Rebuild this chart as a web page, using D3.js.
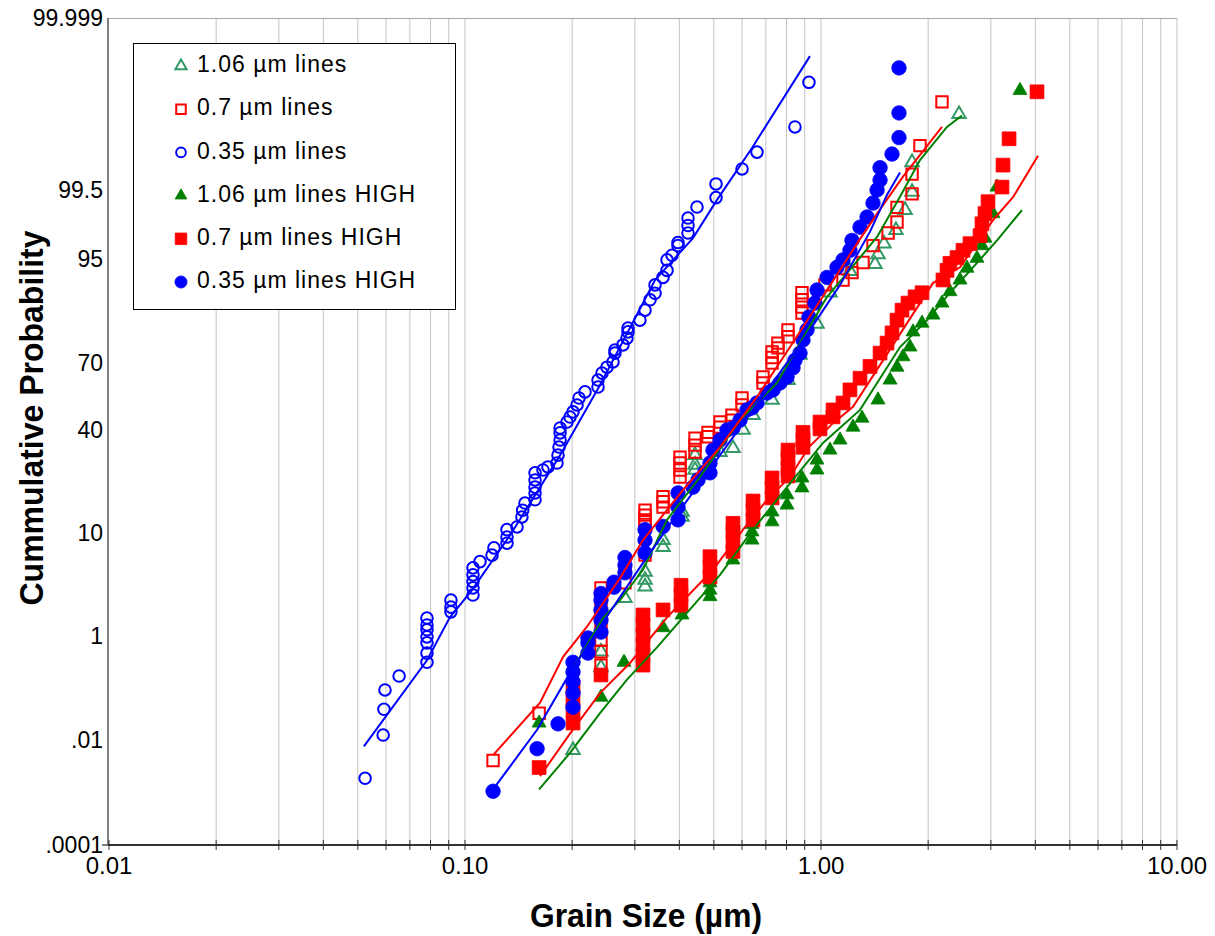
<!DOCTYPE html>
<html><head><meta charset="utf-8">
<script src="https://cdn.jsdelivr.net/npm/d3@7"></script>
<style>
body{margin:0;background:#fff}
svg{display:block}
text{font-family:"Liberation Sans",Arial,sans-serif;fill:#000}
</style></head>
<body><svg id="chart" width="1215" height="936"></svg>
<script>
// ---------------- data ----------------
const seriesNames = ["1.06 µm lines","0.7 µm lines","0.35 µm lines","1.06 µm lines HIGH","0.7 µm lines HIGH","0.35 µm lines HIGH"];
const xTickValues = [0.01,0.1,1,10];
const xTickLabels = ["0.01","0.10","1.00","10.00"];
const yTickValues = [0.0001,0.01,1,10,40,70,95,99.5,99.999];
const yTickLabels = [".0001",".01","1","10","40","70","95","99.5","99.999"];

// 1.06 µm lines (open triangles)
const size106 = [0.2011,0.241,0.241,0.2814,0.3204,0.3204,0.3204,0.360,0.360,0.4071,0.4071,0.4427,0.4427,0.4427,0.5204,0.5659,0.6039,0.6442,0.7286,0.8078,0.873,0.9745,1.060,1.206,1.418,1.446,1.503,1.624,1.722,1.802,1.802,2.442];
const prob106 = [0.0067,0.30,0.56,2.6,3.4,3.94,4.7,7.7,8.8,13.1,14.2,25.7,27.4,30.7,31.8,33.2,40,46.8,53.8,62.8,73.0,82.8,90.0,93.5,94.4,95.6,96.8,97.9,98.94,99.46,99.78,99.955];
// 0.7 µm lines (open squares)
const size07 = [0.1199,0.1615,0.2011,0.2011,0.241,0.241,0.241,0.241,0.241,0.241,0.241,0.2814,0.2814,0.3204,0.3204,0.3204,0.3204,0.3204,0.360,0.360,0.360,0.4018,0.4018,0.4018,0.4018,0.4427,0.4427,0.4427,0.4815,0.4815,0.5204,0.5204,0.5623,0.5623,0.600,0.600,0.6873,0.6873,0.7286,0.7286,0.7286,0.757,0.757,0.8078,0.8078,0.8842,0.8842,0.8842,0.8842,1.026,1.153,1.222,1.312,1.400,1.543,1.635,1.635,1.802,1.802,1.897,2.187];
const prob07 = [0.0044,0.039,0.073,0.115,0.33,0.56,0.87,1.25,1.73,2.49,3.3,3.7,4.9,6.6,11.6,12.5,13.5,14.6,15.3,16.6,17.9,23.5,25.7,28.0,30.0,31.8,34.3,36.9,37.4,39.1,41.3,43.6,44.5,46.8,51.5,54.7,61.5,64.1,70.0,72.0,74.0,75.4,77.0,79.0,81.1,85.6,87.0,88.6,90.0,91.4,92.2,93.3,94.6,96.6,97.7,98.4,99.04,99.42,99.685,99.87,99.971];
// 0.35 µm lines (open circles)
const size035 = [0.0524,0.0589,0.0592,0.0596,0.0653,0.0782,0.0782,0.0782,0.0782,0.0782,0.0782,0.0782,0.0913,0.0913,0.0913,0.1053,0.1053,0.1053,0.1053,0.1053,0.1102,0.1191,0.1206,0.1312,0.1312,0.1312,0.140,0.1445,0.1452,0.1474,0.1573,0.1573,0.1573,0.1573,0.1573,0.1656,0.171,0.1813,0.1825,0.1837,0.185,0.185,0.185,0.1934,0.1972,0.2011,0.2064,0.2091,0.2173,0.2364,0.2364,0.2426,0.2505,0.2604,0.2638,0.2638,0.2778,0.2851,0.287,0.287,0.310,0.3204,0.331,0.3418,0.3418,0.360,0.3694,0.3694,0.3815,0.3966,0.3966,0.4231,0.4231,0.4231,0.4484,0.5071,0.5071,0.600,0.661,0.845,0.925];
const prob035 = [0.0021,0.013,0.047,0.115,0.21,0.37,0.53,0.78,0.97,1.18,1.34,1.6,1.87,2.1,2.49,2.8,3.3,3.8,4.4,5.1,5.8,6.6,7.6,8.3,9.3,10.6,11.1,13.1,14.6,16.3,17.1,18.9,20.5,22.6,24.8,25.7,26.7,28.0,30.7,33.6,36.2,38.9,40.9,43.6,45.9,48.3,51.5,54.7,57.5,59.7,62.8,65.8,68.3,70.4,73.6,74.7,76.4,78.6,80.5,81.6,83.8,86.3,88.6,89.9,91.4,92.6,93.6,94.9,95.5,96.6,96.9,97.7,98.2,98.6,99.05,99.33,99.58,99.73,99.84,99.93,99.986];
// 1.06 µm lines HIGH (filled triangles)
const size106H = [0.1615,0.241,0.2797,0.360,0.4071,0.4877,0.4877,0.4877,0.5659,0.5659,0.640,0.640,0.640,0.7286,0.7286,0.8027,0.8027,0.8842,0.8842,0.9745,0.9745,1.060,1.131,1.230,1.304,1.446,1.563,1.635,1.700,1.778,1.813,1.922,2.063,2.187,2.303,2.457,2.571,2.743,2.833,2.888,3.042,3.122,3.622];
const prob106H = [0.024,0.083,0.37,1.25,1.73,2.7,3.14,3.7,6.0,6.9,8.8,10.2,11.6,12.1,14.2,15.8,18.4,20.3,23.2,25.7,29.0,32.5,36.2,41.3,45.4,53.8,62.8,68.3,72.3,75.7,80.5,83.0,85.1,87.9,90.2,92.2,93.9,95.1,96.6,97.3,98.8,99.54,99.981];
// 0.7 µm lines HIGH (filled squares)
const size07H = [0.1615,0.2011,0.2011,0.2011,0.2011,0.241,0.3162,0.3162,0.3162,0.3162,0.3162,0.3162,0.360,0.4044,0.4044,0.4044,0.4877,0.4877,0.4877,0.5659,0.5659,0.5659,0.5659,0.6442,0.6442,0.6442,0.7286,0.7286,0.7286,0.8078,0.8078,0.8078,0.8078,0.890,0.890,0.890,0.9936,0.9936,1.081,1.081,1.153,1.206,1.287,1.373,1.465,1.533,1.583,1.635,1.689,1.755,1.837,1.922,2.201,2.259,2.303,2.410,2.505,2.621,2.797,2.833,2.888,2.945,3.224,3.245,3.375,4.044];
const prob07H = [0.0033,0.024,0.045,0.08,0.13,0.22,0.33,0.49,0.73,1.03,1.34,1.73,1.96,2.2,2.8,3.5,4.2,5.2,6.4,7.1,8.5,10.2,11.8,12.5,14.6,16.8,17.6,20.3,23.2,23.8,26.3,29.6,32.5,33.5,36.2,39.1,40.5,43.6,46.0,49.2,52.4,58.4,63.6,68.6,73.6,77.0,80.2,83.8,86.3,87.9,89.2,90.0,92.2,93.6,94.5,95.2,96.1,96.8,97.5,98.3,98.8,99.22,99.54,99.76,99.896,99.98];
// 0.35 µm lines HIGH (filled circles)
const size035H = [0.1199,0.1594,0.1825,0.2011,0.2011,0.2011,0.2011,0.2011,0.2215,0.2215,0.2215,0.241,0.241,0.241,0.241,0.241,0.2621,0.2621,0.2814,0.2814,0.2814,0.3204,0.3204,0.3204,0.360,0.3966,0.3966,0.3966,0.4369,0.4513,0.4722,0.4877,0.4877,0.4973,0.5204,0.5445,0.5659,0.5923,0.6197,0.640,0.661,0.7054,0.7333,0.767,0.8027,0.8344,0.845,0.873,0.890,0.9136,0.925,0.9619,0.9745,1.040,1.109,1.153,1.206,1.222,1.287,1.347,1.400,1.437,1.465,1.465,1.583,1.656,1.656,1.656];
const prob035H = [0.0012,0.0071,0.023,0.052,0.10,0.165,0.25,0.37,0.53,0.78,0.93,1.11,1.52,1.96,2.49,2.9,3.35,3.75,4.6,5.4,6.3,6.9,8.8,10.6,11.2,12.5,15.3,18.9,20.5,22.6,25.1,24.8,28.0,32.5,36.2,40,40.9,44.5,49.2,50.1,52.4,57.0,58.4,61.5,64.1,68.0,71.0,73.6,78.0,81.1,84.6,87.9,90.5,92.6,94.0,94.9,96.1,97.1,98.1,98.65,99.18,99.5,99.625,99.74,99.83,99.90,99.957,99.992];

// fitted lognormal lines
const fitSize106 = [0.2011,0.2442,0.2725,0.3162,0.3694,0.4571,0.5923,0.7521,0.873,1.040,1.287,1.437,1.667,1.897,2.259,2.489];
const fitProb106 = [0.29,1.6,2.49,4.9,12.5,23.5,44.5,61.5,77.0,89.2,95.2,97.4,99.35,99.795,99.93,99.953];
const fitSize07 = [0.1199,0.1625,0.1886,0.2201,0.2725,0.3162,0.4097,0.5204,0.661,0.8183,1.040,1.262,1.437,1.700,2.187];
const fitProb07 = [0.0055,0.064,0.46,1.28,4.1,8.8,19.7,33.6,55.2,75.7,90.5,96.8,98.8,99.66,99.93];
const fitSize035 = [0.0520,0.0782,0.0907,0.1046,0.1338,0.185,0.2395,0.3418,0.4369,0.5104,0.640,0.931];
const fitProb035 = [0.0078,0.40,1.63,3.14,9.6,30.7,60.6,92.2,97.3,99.27,99.86,99.995];
const fitSize106H = [0.1615,0.1972,0.2395,0.2851,0.3462,0.4097,0.5204,0.6442,0.8027,1.013,1.287,1.667,1.986,2.303,2.673,3.122,3.669];
const fitProb106H = [0.0013,0.006,0.039,0.18,0.66,1.63,4.4,10.6,20.5,35.1,49.2,75.7,83.8,90.0,94.0,97.1,98.94];
const fitSize07H = [0.1625,0.1972,0.2395,0.2908,0.3694,0.4973,0.6039,0.7054,0.8183,0.925,1.081,1.230,1.593,2.063,2.457,3.042,3.462,4.071];
const fitProb07H = [0.0023,0.014,0.10,0.36,1.63,4.9,10.6,17.1,23.5,33.6,43.1,50.6,76.4,91.7,94.0,98.5,99.34,99.82];
const fitSize035H = [0.1199,0.1594,0.1972,0.2395,0.3162,0.4018,0.5204,0.674,0.873,1.131,1.373,1.533,1.667];
const fitProb035H = [0.0013,0.017,0.24,1.28,5.65,14.6,30.7,53.8,76.4,91.4,97.8,99.4,99.70];

// ---------------- helpers ----------------
function probit(p){
  const a=[-3.969683028665376e+01,2.209460984245205e+02,-2.759285104469687e+02,1.383577518672690e+02,-3.066479806614716e+01,2.506628277459239e+00];
  const b=[-5.447609879822406e+01,1.615858368580409e+02,-1.556989798598866e+02,6.680131188771972e+01,-1.328068155288572e+01];
  const c=[-7.784894002430293e-03,-3.223964580411365e-01,-2.400758277161838e+00,-2.549732539343734e+00,4.374664141464968e+00,2.938163982698783e+00];
  const d=[7.784695709041462e-03,3.224671290700398e-01,2.445134137142996e+00,3.754408661907416e+00];
  const pl=0.02425, ph=1-pl; let q,r;
  if(p<pl){q=Math.sqrt(-2*Math.log(p));return (((((c[0]*q+c[1])*q+c[2])*q+c[3])*q+c[4])*q+c[5])/((((d[0]*q+d[1])*q+d[2])*q+d[3])*q+1);}
  if(p<=ph){q=p-0.5;r=q*q;return (((((a[0]*r+a[1])*r+a[2])*r+a[3])*r+a[4])*r+a[5])*q/(((((b[0]*r+b[1])*r+b[2])*r+b[3])*r+b[4])*r+1);}
  q=Math.sqrt(-2*Math.log(1-p));return -(((((c[0]*q+c[1])*q+c[2])*q+c[3])*q+c[4])*q+c[5])/((((d[0]*q+d[1])*q+d[2])*q+d[3])*q+1);
}

// ---------------- layout ----------------
const L=108, R=1177, T=18, B=845;
const svg = d3.select("#chart");
const x = d3.scaleLog().domain([0.01,10]).range([109,R]);
const yZ = d3.scaleLinear()
  .domain(yTickValues.map(v=>probit(v/100)))
  .range([845,740,636,533,430,363,259,190,18]);
const y = p => yZ(probit(p/100));

// gridlines
svg.append("g").selectAll("line").data(x.ticks().filter(v=>v>0.0101)).join("line")
  .attr("x1",d=>x(d)).attr("x2",d=>x(d)).attr("y1",T).attr("y2",B)
  .attr("stroke","#c4c4c4").attr("stroke-width",1);
svg.append("line").attr("x1",L).attr("x2",R).attr("y1",T+0.5).attr("y2",T+0.5)
  .attr("stroke","#a8a8a8").attr("stroke-width",1);

// axes
svg.append("line").attr("x1",L).attr("x2",L).attr("y1",T).attr("y2",B)
  .attr("stroke","#555").attr("stroke-width",1.5);
svg.append("line").attr("x1",L-6).attr("x2",L).attr("y1",B).attr("y2",B)
  .attr("stroke","#555").attr("stroke-width",1.5);
svg.append("line").attr("x1",L).attr("x2",R).attr("y1",B).attr("y2",B)
  .attr("stroke","#333").attr("stroke-width",2);
svg.append("g").selectAll("line").data(x.ticks()).join("line")
  .attr("x1",d=>x(d)).attr("x2",d=>x(d)).attr("y1",B-5).attr("y2",B+5)
  .attr("stroke","#333").attr("stroke-width",1);

svg.append("g").selectAll("text").data(xTickValues).join("text")
  .attr("x",d=>x(d)).attr("y",874).attr("text-anchor","middle")
  .style("font-size","24px").text((d,i)=>xTickLabels[i]);
svg.append("g").selectAll("text").data(yTickValues).join("text")
  .attr("x",103).attr("y",d=>y(d)).attr("dy","0.36em").attr("text-anchor","end")
  .style("font-size","23px").text((d,i)=>yTickLabels[i]);

svg.append("text").attr("x",646).attr("y",927).attr("text-anchor","middle")
  .attr("textLength",232).attr("lengthAdjust","spacingAndGlyphs")
  .style("font-size","33px").style("font-weight","bold").text("Grain Size (µm)");
svg.append("text").attr("transform","translate(43,418) rotate(-90)").attr("text-anchor","middle")
  .attr("textLength",375).attr("lengthAdjust","spacingAndGlyphs")
  .style("font-size","33px").style("font-weight","bold").text("Cummulative Probability");

// series definitions
const series = [
  {name:seriesNames[0], size:size106, prob:prob106, sym:d3.symbolTriangle, area:78, filled:false, color:"#339966", fs:fitSize106, fp:fitProb106, lc:"#008000"},
  {name:seriesNames[1], size:size07, prob:prob07, sym:d3.symbolSquare, area:130, filled:false, color:"#ff0000", fs:fitSize07, fp:fitProb07, lc:"#ff0000"},
  {name:seriesNames[2], size:size035, prob:prob035, sym:d3.symbolCircle, area:105, filled:false, color:"#0000ff", fs:fitSize035, fp:fitProb035, lc:"#0000ff"},
  {name:seriesNames[3], size:size106H, prob:prob106H, sym:d3.symbolTriangle, area:85, filled:true, color:"#008000", fs:fitSize106H, fp:fitProb106H, lc:"#008000"},
  {name:seriesNames[4], size:size07H, prob:prob07H, sym:d3.symbolSquare, area:190, filled:true, color:"#ff0000", fs:fitSize07H, fp:fitProb07H, lc:"#ff0000"},
  {name:seriesNames[5], size:size035H, prob:prob035H, sym:d3.symbolCircle, area:165, filled:true, color:"#0000ff", fs:fitSize035H, fp:fitProb035H, lc:"#0000ff"}
];

const gm = svg.append("g");
series.forEach(s=>{
  gm.append("g").selectAll("path").data(d3.zip(s.size,s.prob)).join("path")
    .attr("transform",d=>`translate(${x(d[0])},${y(d[1])})`)
    .attr("d",d3.symbol(s.sym,s.area))
    .attr("fill",s.filled?s.color:"none")
    .attr("stroke",s.color)
    .attr("stroke-width",s.filled?0.8:2);
});
const line = d3.line().x(d=>x(d[0])).y(d=>y(d[1]));
series.forEach(s=>{
  svg.append("path").datum(d3.zip(s.fs,s.fp)).attr("d",line)
    .attr("fill","none").attr("stroke",s.lc).attr("stroke-width",2);
});

// legend
const lg = svg.append("g");
lg.append("rect").attr("x",133.5).attr("y",43.5).attr("width",322).attr("height",266)
  .attr("fill","#fff").attr("stroke","#000").attr("stroke-width",1);
series.forEach((s,i)=>{
  const cy = 64 + i*43.2;
  lg.append("path").attr("transform",`translate(181,${cy+2})`)
    .attr("d",d3.symbol(s.sym,s.area*0.7))
    .attr("fill",s.filled?s.color:"none").attr("stroke",s.color).attr("stroke-width",s.filled?0.8:2);
  lg.append("text").attr("x",197).attr("y",cy).attr("dy","0.36em")
    .style("font-size","23px").style("letter-spacing","1px").text(s.name);
});
</script></body></html>
